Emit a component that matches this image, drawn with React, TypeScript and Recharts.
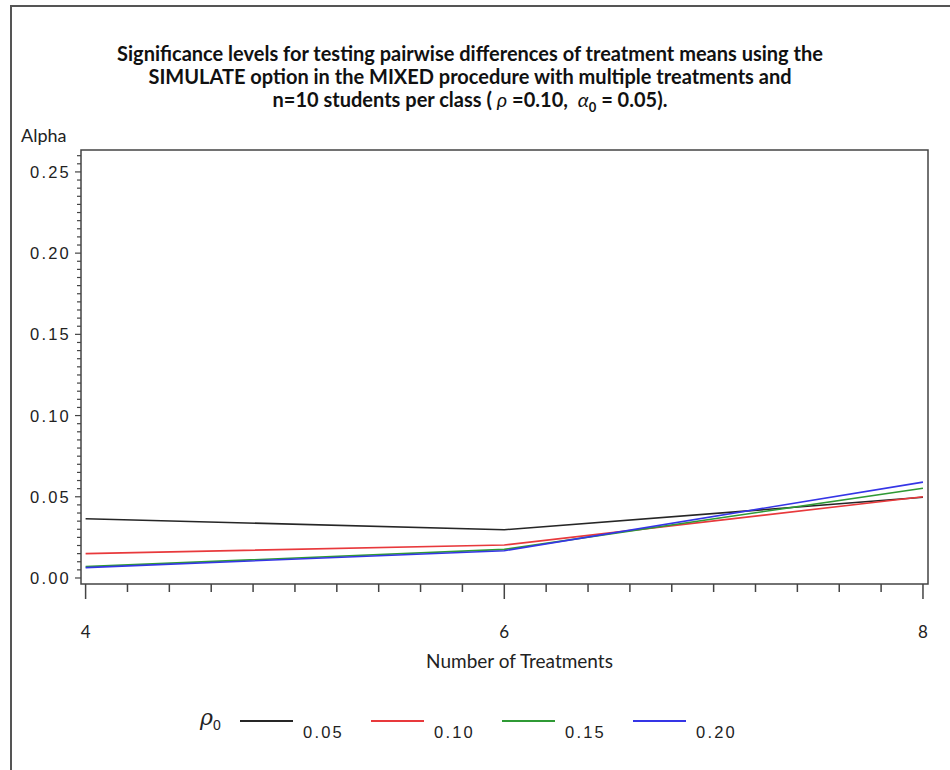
import React from "react";
import {
  LineChart,
  Line,
  XAxis,
  YAxis,
  ReferenceArea,
} from "recharts";

const treatments = [4, 6, 8];
const rho005 = [0.0365, 0.0297, 0.0497];
const rho010 = [0.015, 0.0203, 0.05];
const rho015 = [0.007, 0.0176, 0.0552];
const rho020 = [0.0064, 0.0168, 0.059];

const xMajor = [4, 6, 8];
const yMajor = [0, 0.05, 0.1, 0.15, 0.2, 0.25];
const yLabels = ["0.00", "0.05", "0.10", "0.15", "0.20", "0.25"];

const series = [
  { key: "r005", label: "0.05", color: "#262626", values: rho005 },
  { key: "r010", label: "0.10", color: "#e8393c", values: rho010 },
  { key: "r015", label: "0.15", color: "#2f9a35", values: rho015 },
  { key: "r020", label: "0.20", color: "#3535e6", values: rho020 },
];

const data = treatments.map((t, i) => {
  const row: Record<string, number> = { t };
  series.forEach((s) => (row[s.key] = s.values[i]));
  return row;
});

// minor ticks: every 0.2 on x, every 0.005 on y
const xTicks: number[] = [];
for (let i = 0; i <= 20; i++) xTicks.push(+(4 + i * 0.2).toFixed(1));
const yTicks: number[] = [];
for (let i = 0; i <= 52; i++) yTicks.push(+(i * 0.005).toFixed(3));

const X_DOMAIN: [number, number] = [3.978, 8.024];
const Y_DOMAIN: [number, number] = [-0.0037, 0.2635];
const AXIS = "#444";
const NUM_FONT = "'Liberation Sans', Arial, sans-serif";
const TEXT_FONT = "Lato, 'Open Sans', sans-serif";

const isMajorX = (v: number) => xMajor.some((m) => Math.abs(m - v) < 1e-6);
const majorYIndex = (v: number) => yMajor.findIndex((m) => Math.abs(m - v) < 1e-6);

const XTick = (props: any) => {
  const { x, y, payload } = props;
  const major = isMajorX(payload.value);
  return (
    <g>
      <line x1={x} x2={x} y1={y} y2={y + (major ? 15 : 8)} stroke={AXIS} strokeWidth={1.5} />
      {major && (
        <text x={x} y={y + 54} textAnchor="middle" fontFamily={TEXT_FONT} fontSize={17} fill="#222">
          {payload.value}
        </text>
      )}
    </g>
  );
};

const YTick = (props: any) => {
  const { x, y, payload } = props;
  const idx = majorYIndex(payload.value);
  const major = idx >= 0;
  return (
    <g>
      <line x1={x} x2={x - (major ? 6 : 4)} y1={y} y2={y} stroke={AXIS} strokeWidth={1.2} />
      {major && (
        <text
          x={x - 10}
          y={y + 6}
          textAnchor="end"
          fontFamily={NUM_FONT}
          fontSize={16.5}
          letterSpacing={2.2}
          fill="#222"
        >
          {yLabels[idx]}
        </text>
      )}
    </g>
  );
};

export default function App() {
  return (
    <div
      style={{
        position: "absolute",
        left: 0,
        top: 0,
        width: 950,
        height: 770,
        background: "#fff",
        overflow: "hidden",
      }}
    >
      <div
        style={{
          position: "absolute",
          left: 10,
          top: 5,
          width: 950,
          height: 780,
          borderLeft: "2px solid #555",
          borderTop: "2px solid #555",
        }}
      />
      <div
        style={{
          position: "absolute",
          left: 0,
          top: 42,
          width: 940,
          textAlign: "center",
          fontFamily: TEXT_FONT,
          fontWeight: 700,
          fontSize: 20,
          lineHeight: "23px",
          color: "#111",
        }}
      >
        <div>Significance levels for testing pairwise differences of treatment means using the</div>
        <div>SIMULATE option in the MIXED procedure with multiple treatments and</div>
        <div>
          n=10 students per class ( <i style={{ fontWeight: 400 }}>ρ</i> =0.10,&nbsp;&nbsp;
          <i style={{ fontWeight: 400 }}>α</i>
          <sub style={{ fontSize: 13, lineHeight: 0 }}>0</sub> = 0.05).
        </div>
      </div>
      <div
        style={{
          position: "absolute",
          left: 21,
          top: 124,
          fontFamily: TEXT_FONT,
          fontSize: 18,
          color: "#222",
        }}
      >
        Alpha
      </div>
      <div
        style={{
          position: "absolute",
          left: 81,
          width: 847,
          top: 649,
          textAlign: "center",
          paddingLeft: 30,
          boxSizing: "border-box",
          fontFamily: TEXT_FONT,
          fontSize: 19,
          color: "#222",
        }}
      >
        Number of Treatments
      </div>
      <div style={{ position: "absolute", left: 0, top: 0 }}>
        <LineChart
          width={950}
          height={770}
          data={data}
          margin={{ top: 150, right: 22, bottom: 156, left: 11 }}
        >
          <XAxis
            dataKey="t"
            type="number"
            domain={X_DOMAIN}
            allowDataOverflow
            ticks={xTicks}
            interval={0}
            tickSize={0}
            tickMargin={0}
            tickLine={false}
            axisLine={false}
            tick={<XTick />}
            height={30}
          />
          <YAxis
            type="number"
            domain={Y_DOMAIN}
            allowDataOverflow
            ticks={yTicks}
            interval={0}
            tickSize={0}
            tickMargin={0}
            tickLine={false}
            axisLine={false}
            tick={<YTick />}
            width={70}
          />
          <ReferenceArea
            x1={X_DOMAIN[0]}
            x2={X_DOMAIN[1]}
            y1={Y_DOMAIN[0]}
            y2={Y_DOMAIN[1]}
            fill="none"
            stroke={AXIS}
            strokeWidth={1.5}
            ifOverflow="visible"
          />
          {series.map((s) => (
            <Line
              key={s.key}
              dataKey={s.key}
              type="linear"
              stroke={s.color}
              strokeWidth={1.6}
              dot={false}
              isAnimationActive={false}
            />
          ))}
        </LineChart>
      </div>
      <div
        style={{
          position: "absolute",
          left: 200,
          top: 706,
          display: "flex",
          alignItems: "flex-start",
          fontFamily: NUM_FONT,
          fontSize: 16.5,
          color: "#222",
        }}
      >
        <span
          style={{
            fontFamily: "'DejaVu Serif', serif",
            fontStyle: "italic",
            fontSize: 22,
            lineHeight: "24px",
            width: 40,
          }}
        >
          ρ<sub style={{ fontSize: 14, fontStyle: "normal", fontFamily: NUM_FONT }}>0</sub>
        </span>
        {series.map((s) => (
          <div key={s.key} style={{ display: "flex", alignItems: "flex-start", width: 131 }}>
            <div style={{ width: 53, height: 2, background: s.color, marginTop: 14 }} />
            <span style={{ marginLeft: 10, marginTop: 17, letterSpacing: 2.2 }}>{s.label}</span>
          </div>
        ))}
      </div>
    </div>
  );
}
